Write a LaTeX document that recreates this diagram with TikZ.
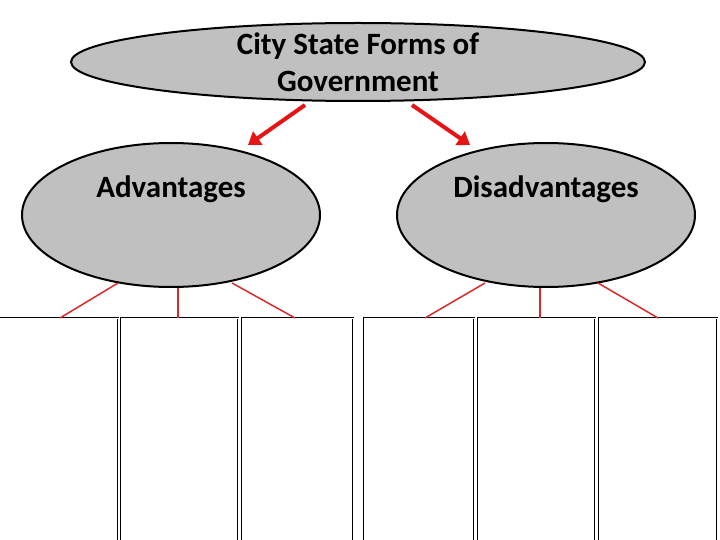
\documentclass[tikz,border=0pt]{standalone}
\usepackage{fontspec}
\setmainfont{Carlito}
\usetikzlibrary{shapes.geometric,arrows.meta}
\begin{document}
\begin{tikzpicture}[x=1pt,y=-1pt,
  oval/.style={ellipse,draw=black,line width=2pt,fill={rgb,255:red,192;green,192;blue,192},inner sep=0pt},
  redarrow/.style={draw={rgb,255:red,230;green,20;blue,20},line width=4pt,-{Triangle[length=12pt,width=16pt]}},
  redline/.style={draw={rgb,255:red,220;green,40;blue,40},line width=1.5pt},
  panel/.style={draw=black,line width=0.6pt,double=white,double distance=1pt,fill=white,inner sep=0pt,anchor=north west},
  lbl/.style={font=\bfseries\fontsize{31}{37}\selectfont,align=center}]
\useasboundingbox (0,0) rectangle (720,540);
\node[oval,minimum width=574,minimum height=78] (top) at (358,62) {};
\node[lbl] (toptext) at (358,62) {City State Forms of\\Government};
\node[oval,minimum width=298,minimum height=144] (adv) at (171,215) {};
\node[lbl] (advtext) at (171,189) {Advantages};
\node[oval,minimum width=298,minimum height=144] (dis) at (546,215) {};
\node[lbl] (distext) at (546,189) {Disadvantages};
\coordinate (a1) at (305,105); \coordinate (a1e) at (248,145);
\coordinate (a2) at (412,105); \coordinate (a2e) at (470,145);
\draw[redarrow] (a1) -- (a1e);
\draw[redarrow] (a2) -- (a2e);
\node[panel,minimum width=118,minimum height=230] (b1) at (0,318) {};
\node[panel,minimum width=117,minimum height=230] (b2) at (121,318) {};
\node[panel,minimum width=111,minimum height=230] (b3) at (242,318) {};
\node[panel,minimum width=110,minimum height=230] (b4) at (364,318) {};
\node[panel,minimum width=117,minimum height=230] (b5) at (478,318) {};
\node[panel,minimum width=118,minimum height=230] (b6) at (599,318) {};
\coordinate (l1) at (118,283); \coordinate (l2) at (178,288); \coordinate (l3) at (232,283);
\coordinate (r1) at (485,283); \coordinate (r2) at (540,288); \coordinate (r3) at (598,283);
\draw[redline] (l1) -- (60,318);
\draw[redline] (l2) -- (178,318);
\draw[redline] (l3) -- (295,318);
\draw[redline] (r1) -- (425,318);
\draw[redline] (r2) -- (540,318);
\draw[redline] (r3) -- (658,318);
\end{tikzpicture}
\end{document}
